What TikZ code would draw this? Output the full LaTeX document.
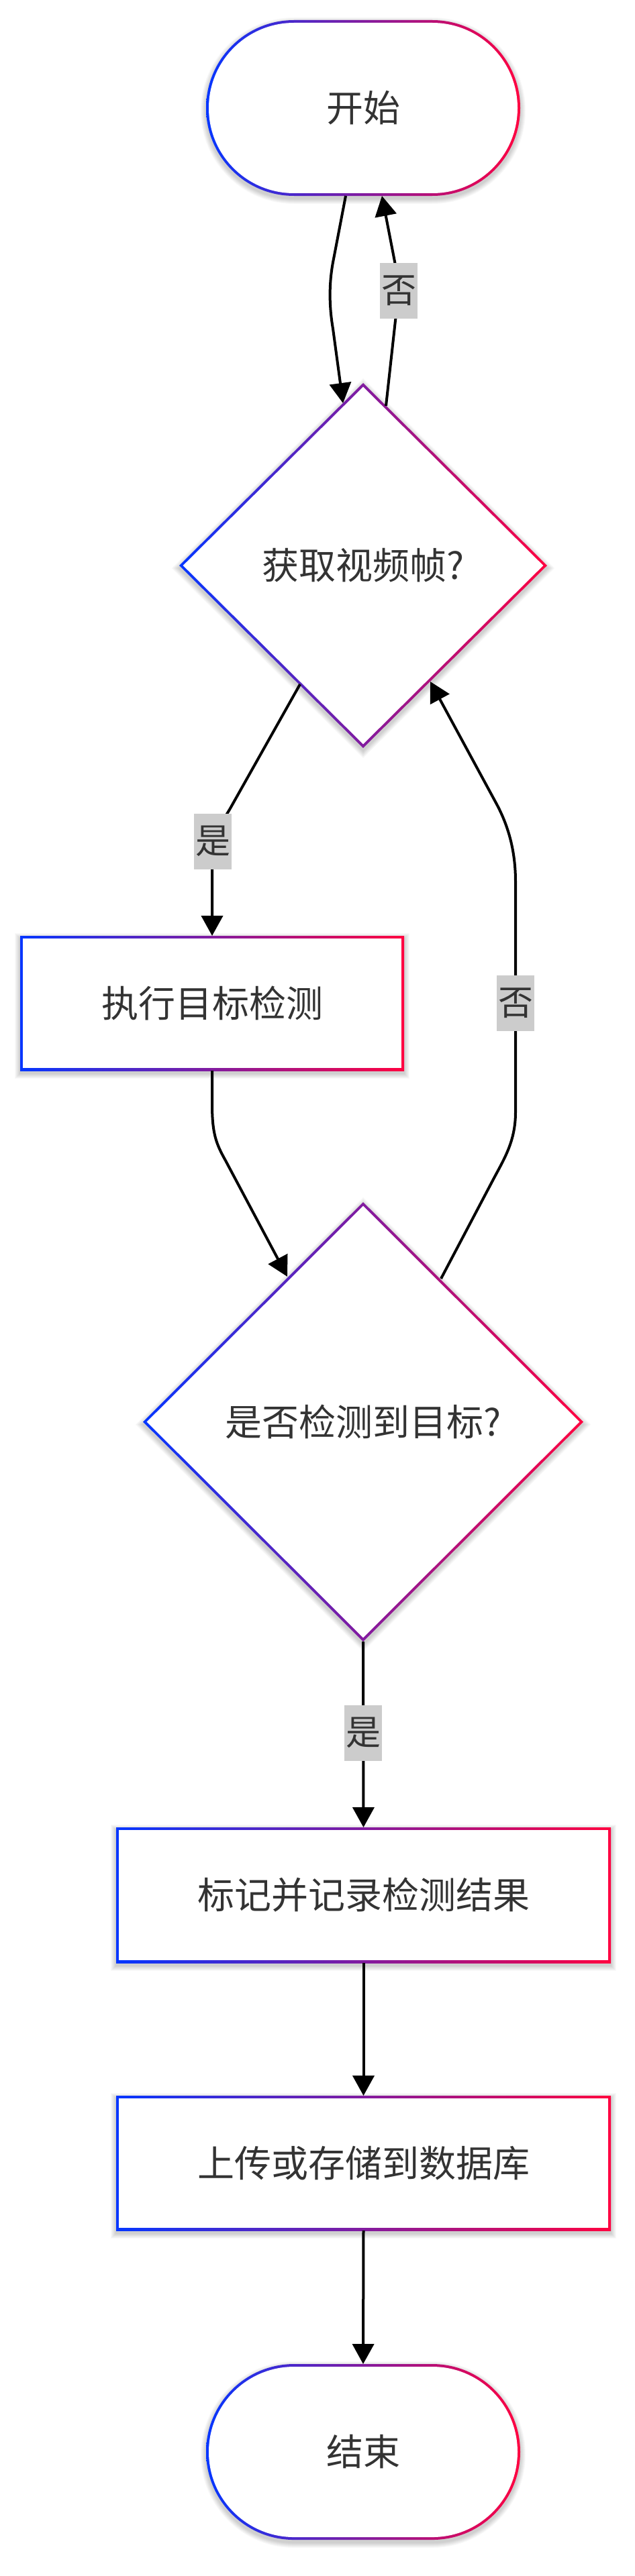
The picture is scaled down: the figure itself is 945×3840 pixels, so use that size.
\documentclass[tikz,border=0pt]{standalone}
\usepackage{fontspec}
\newfontfamily\cjk{Noto Sans CJK SC}
\usetikzlibrary{arrows.meta,shapes.geometric,backgrounds}
\definecolor{gA}{HTML}{0536FF}
\definecolor{gB}{HTML}{FF0040}
\definecolor{txt}{HTML}{333333}
\definecolor{lblbg}{HTML}{CCCCCC}
\tikzset{
  base/.style={inner sep=0pt, outer sep=0pt, text=txt, font=\cjk\fontsize{55}{66}\selectfont},
  pill/.style={base, rectangle, minimum width=468pt, minimum height=262pt},
  procbox/.style={base, rectangle, minimum height=201pt},
  decision/.style={base, diamond},
  edge/.style={draw=black, line width=4pt, -{Triangle[length=30pt,width=32pt]}},
  lbl/.style={fill=lblbg, text=txt, inner xsep=1pt, inner ysep=0pt, minimum width=56pt, minimum height=83pt, font=\cjk\fontsize{52}{52}\selectfont},
  shadowfill/.style={fill=black, opacity=0.022},
  grad/.style={left color=gA, right color=gB},
}
\newcommand\boxdeco[1]{%
  \foreach \k in {1,...,8}{%
    \fill[shadowfill] ([shift={(-\k*1pt,-\k*1pt-4pt)}]#1.south west) rectangle ([shift={(\k*1pt,\k*1pt-4pt)}]#1.north east);}%
  \shade[grad] (#1.south west) rectangle (#1.north east);
  \fill[white] ([shift={(4pt,4pt)}]#1.south west) rectangle ([shift={(-4pt,-4pt)}]#1.north east);
}
\newcommand\pilldeco[1]{%
  \foreach \k in {1,...,8}{%
    \fill[shadowfill, rounded corners=131pt+\k*1pt] ([shift={(-\k*1pt,-\k*1pt-4pt)}]#1.south west) rectangle ([shift={(\k*1pt,\k*1pt-4pt)}]#1.north east);}%
  \shade[grad, rounded corners=131pt] (#1.south west) rectangle (#1.north east);
  \fill[white, rounded corners=127pt] ([shift={(4pt,4pt)}]#1.south west) rectangle ([shift={(-4pt,-4pt)}]#1.north east);
}
\newcommand\diadeco[1]{%
  \foreach \k in {1,...,8}{%
    \fill[shadowfill] ([yshift=\k*1.41pt-4pt]#1.north) -- ([xshift=\k*1.41pt,yshift=-4pt]#1.east) -- ([yshift=-\k*1.41pt-4pt]#1.south) -- ([xshift=-\k*1.41pt,yshift=-4pt]#1.west) -- cycle;}%
  \shade[grad] (#1.north) -- (#1.east) -- (#1.south) -- (#1.west) -- cycle;
  \fill[white] ([yshift=-5.7pt]#1.north) -- ([xshift=-5.7pt]#1.east) -- ([yshift=5.7pt]#1.south) -- ([xshift=5.7pt]#1.west) -- cycle;
}
\begin{document}
\begin{tikzpicture}[x=1pt,y=-1pt]
  \useasboundingbox (0,0) rectangle (945,3840);

  % nodes
  \node[pill] (start) at (541,161) {开始};
  \node[decision, minimum width=548pt, minimum height=544pt] (d1) at (541,843) {获取视频帧?};
  \node[procbox, minimum width=572pt] (box1) at (316,1495.5) {执行目标检测};
  \node[decision, minimum width=656pt, minimum height=655pt] (d2) at (541,2119.5) {是否检测到目标?};
  \node[procbox, minimum width=737pt, minimum height=202pt] (box2) at (541.5,2825) {标记并记录检测结果};
  \node[procbox, minimum width=737pt] (box3) at (541.5,3224.5) {上传或存储到数据库};
  \node[pill] (end) at (541,3655) {结束};

  \begin{scope}[on background layer]
    \fill[white] (0,0) rectangle (945,3840);
    \pilldeco{start}
    \diadeco{d1}
    \boxdeco{box1}
    \diadeco{d2}
    \boxdeco{box2}
    \boxdeco{box3}
    \pilldeco{end}
  \end{scope}

  % connectors
  \draw[edge] ([xshift=-26pt]start.south) -- (497,386) .. controls (490,420) and (490,455) .. (496,490) -- ([xshift=-30pt,yshift=-30pt]d1.north);
  \draw[edge] ([xshift=34pt,yshift=-34pt]d1.north) -- (589,478) .. controls (593,445) and (595,420) .. (589,395) -- ([xshift=28pt]start.south);
  \draw[edge] ([xshift=-94pt,yshift=95pt]d1.south) -- (343,1205) .. controls (330,1228) and (316,1240) .. (316,1265) -- (box1.north);
  \draw[edge] (box1.south) -- (316,1646) .. controls (316,1690) and (322,1705) .. (336,1730) -- ([xshift=-113pt,yshift=-111pt]d2.north);
  \draw[edge] ([xshift=116pt,yshift=-114pt]d2.north) -- (736,1756) .. controls (752,1726) and (768,1700) .. (768,1658) -- (768,1314) .. controls (768,1270) and (758,1232) .. (739,1197) -- ([xshift=100pt,yshift=99pt]d1.south);
  \draw[edge] (d2.south) -- (box2.north);
  \draw[edge] (box2.south) -- (box3.north);
  \draw[edge] (box3.south) -- (end.north);

  % edge labels
  \node[lbl] (l1) at (594,433) {否};
  \node[lbl] (l2) at (317,1254) {是};
  \node[lbl] (l3) at (768,1495) {否};
  \node[lbl] (l4) at (541,2583) {是};
\end{tikzpicture}
\end{document}
